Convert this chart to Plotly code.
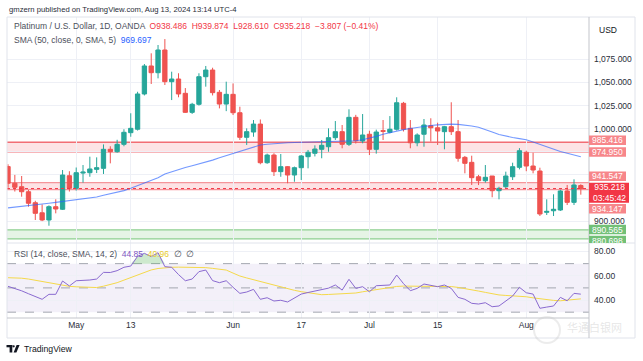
import plotly.graph_objects as go
import pandas as pd
import numpy as np

# ---------------- data ----------------
dates = pd.bdate_range("2024-04-17", "2024-08-13").strftime("%Y-%m-%d").tolist()

opens = [959, 941, 937.2, 931.8, 919.9, 909, 901.2, 915.6, 912.8, 949.1,
         935.5, 952, 952.4, 956, 957.1, 977.7, 975.1, 983.1, 995.7, 999.4,
         1037.6, 1067.9, 1060.6, 1085.2, 1050.9, 1053.8, 1038.3, 1017.7, 1026.4, 1056.3,
         1063.5, 1039.4, 1026.7, 1037.2, 1017.3, 990.7, 996.4, 1005, 963.2, 971.5,
         953.5, 958.9, 949.9, 957.8, 969.7, 973.4, 977.7, 980.5, 990.3, 996.8,
         983.1, 1012.3, 986.7, 994, 977.7, 997.9, 996.1, 999.4, 1027.5, 1000.4,
         984.8, 994, 1003.2, 1001, 996.8, 1002.2, 996.8, 969, 963.6, 948,
         943.7, 948.8, 932.9, 937.2, 948, 958.2, 974.5, 959.6, 954.2, 909.5,
         911.2, 912, 932.6, 920.3, 938.486]
highs = [961.5, 950, 948.8, 933.7, 922, 918, 917, 923.6, 955.3, 954,
         958, 960.7, 969.7, 969, 983, 981, 988, 999.4, 1016.7, 1040,
         1070, 1081.6, 1090.6, 1097, 1061.7, 1060, 1044, 1028, 1060, 1067.9,
         1066, 1041.9, 1050.9, 1049, 1023.8, 1000.4, 1009.4, 1010, 973, 973.4,
         972.6, 959.6, 959, 971.5, 977, 982, 987.8, 1000.4, 1008.3, 1004,
         1021, 1015, 1015.9, 997.8, 999, 1009.4, 1013.7, 1034, 1029, 1009.4,
         995, 1010.5, 1011.3, 1006.5, 1003, 1028.6, 1009.4, 970.5, 970.8, 950,
         960.7, 948.8, 937.2, 953.5, 963.2, 979, 976.2, 974, 957.8, 923.6,
         929, 934, 939.1, 945.2, 939.874]
lows = [936, 932, 926.4, 915.6, 901.2, 900, 895, 908.4, 912, 932,
        933, 941.6, 948, 952, 951, 962.5, 974, 981, 991.3, 998,
        1036, 1048.4, 1054.5, 1047.3, 1031, 1034, 1017, 1016, 1025, 1045.5,
        1036, 1022, 1019, 1014.8, 987.8, 982.4, 991.3, 961.5, 962, 948.8,
        948, 940.9, 942.6, 944.5, 957.1, 970, 968, 975.1, 987.8, 978.8,
        981.3, 984, 984.2, 971.5, 973, 987.8, 995, 998, 997, 978.8,
        981, 980.5, 986, 982.4, 977.7, 993.2, 964.3, 951.7, 939.1, 939,
        941.6, 925.8, 923.6, 935.5, 944.5, 956, 954, 951.7, 905.5, 906.6,
        905.5, 911, 917.4, 917.4, 928.610]
closes = [941, 936.6, 931.8, 919.3, 908.4, 901.2, 915.6, 913.1, 949.9, 935.5,
          952.4, 953, 956.4, 957.8, 977.7, 975.1, 983.1, 996.1, 1000.4, 1037.6,
          1067.9, 1060.6, 1085.2, 1050.9, 1053.8, 1037.6, 1017.7, 1026.4, 1056.3, 1063.5,
          1039, 1026.7, 1037.2, 1017.3, 990.7, 996.8, 1005, 963.2, 971.5, 953.5,
          958.9, 949.9, 957.8, 970.5, 974.5, 978, 982, 990.3, 996.8, 983.1,
          1012.3, 987, 993.2, 977.7, 996.4, 997.2, 999.4, 1028.1, 999.4, 984.8,
          993.2, 1004, 1001, 997.5, 1002.2, 996.8, 968, 962.5, 947, 943.7,
          947.4, 932.9, 935.5, 948.8, 958.9, 976.2, 959.6, 955.3, 907.7, 910.5,
          912.8, 932.6, 920.3, 939.1, 935.218]
sma50 = [914.3, 915, 915.8, 916.5, 917.4, 918.3, 919.3, 920.3, 921.3, 922.2,
         923, 923.8, 924.9, 926, 928, 929.6, 931.3, 933, 935.5, 938.3,
         941, 944, 947, 951, 953.5, 956, 958, 960, 961.8, 964,
         966, 968.5, 970.8, 973, 975.5, 978, 980.3, 982.4, 983.2, 984,
         984.5, 984.8, 985.1, 985.3, 985.5, 985.6, 985.8, 985.9, 986.2, 986.5,
         986.8, 987, 988, 989.5, 991.7, 994, 995.8, 997.5, 999, 1000.3,
         1001.5, 1002.6, 1003.5, 1004.2, 1004.7, 1005, 1004.7, 1004, 1003, 1001.5,
         999.4, 996.5, 993.8, 992, 990.5, 989.3, 988, 985.6, 983, 980.2,
         977.5, 975.4, 973.4, 971.5, 969.7]
rsi = [51.3, 49.7, 47.6, 45.2, 42.9, 40.6, 44.7, 44.7, 55.7, 51.6,
       55.9, 55.9, 56.5, 57.3, 62.8, 62.7, 64.2, 67, 68, 76,
       78.5, 75.8, 79, 67.5, 67, 61, 55.9, 57.3, 63.4, 64.7,
       56, 54.3, 55.9, 50.5, 45.5, 46.6, 48.8, 40.6, 41.9, 39.2,
       39.8, 38.4, 41.4, 44.9, 46.2, 47.3, 48.2, 49.8, 52.4, 48.2,
       57.1, 49.6, 51, 46.8, 51.8, 52, 52.4, 60.6, 53.5, 47.7,
       49.6, 53.2, 52, 51, 52.4, 49.6, 42.2, 40.6, 37.3, 36.7,
       37.8, 34.5, 35.1, 39.5, 43.3, 50.5, 46, 44.9, 33.2, 34.2,
       35.1, 42.2, 39.4, 45.5, 44.85]
rsi_sma = [58.4, 58.3, 58, 57.3, 56.3, 55.2, 54.3, 53.2, 52, 51.3,
           50.9, 50.5, 50.2, 50.3, 51.4, 52.7, 54.3, 56.4, 58.5, 60.6,
           62.8, 64.8, 66, 66.8, 67, 67.1, 67.1, 67.1, 67, 66.7,
           66.1, 65.4, 64.7, 62.2, 59.8, 58.2, 56.7, 55.2, 53.8, 52.3,
           50.9, 49.4, 48, 46.9, 45.9, 44.9, 44.4, 44.6, 44.9, 45.2,
           45.4, 45.8, 46.8, 47.8, 48.7, 49.6, 50.4, 51.2, 51.5, 51.5,
           51.5, 51.5, 51.5, 51.5, 51.5, 51.1, 50.4, 49.6, 48.5, 47.4,
           46.3, 45.2, 44.2, 43.8, 43.5, 43.1, 42.7, 41.8, 40.9, 40,
           39.7, 39.4, 39.9, 40.4, 40.96]

tick_dates = ["2024-05-01", "2024-05-13", "2024-06-03", "2024-06-17",
              "2024-07-01", "2024-07-15", "2024-08-01"]
tick_text = ["May", "13", "Jun", "17", "Jul", "15", "Aug"]
price_ticks = [900, 925, 950, 975, 1000, 1025, 1050, 1075]
price_tick_shown = [True, False, False, False, True, True, True, True]  # others hidden under tags
rsi_ticks = [40, 60, 80]
red_zone_hi = (974.950, 985.416)
red_zone_lo = (934.147, 941.547)
green_zone = (880.698, 890.565)
last_price = 935.218
countdown = "03:45:42"
rsi_levels = [70, 50, 30]

# ---------------- style ----------------
UP, DN = "#26a69a", "#ef5350"
FONT = "Liberation Sans"
W, H = 643, 361
L, R, T, B = 7, 589, 17, 318
SEP = 243


def px(x):
    return (x - L) / (R - L)


def py(y):
    return (B - y) / (B - T)


fig = go.Figure()
fig.add_trace(go.Candlestick(
    x=dates, open=opens, high=highs, low=lows, close=closes,
    increasing=dict(line=dict(color=UP, width=1), fillcolor=UP),
    decreasing=dict(line=dict(color=DN, width=1), fillcolor=DN),
    whiskerwidth=0, hoverinfo="skip", showlegend=False, xaxis="x", yaxis="y"))
fig.add_trace(go.Scatter(x=dates, y=sma50, mode="lines",
                         line=dict(color="rgba(41,98,255,0.65)", width=1.1),
                         hoverinfo="skip", showlegend=False, xaxis="x", yaxis="y"))

# RSI pane
ob_idx = [i for i, v in enumerate(rsi) if v > 70]
seg = list(range(ob_idx[0] - 1, ob_idx[-1] + 2))
fig.add_trace(go.Scatter(x=[dates[i] for i in seg], y=[70] * len(seg), mode="lines",
                         line=dict(width=0), hoverinfo="skip", showlegend=False,
                         xaxis="x", yaxis="y2"))
fig.add_trace(go.Scatter(x=[dates[i] for i in seg], y=[max(rsi[i], 70) for i in seg],
                         mode="lines", line=dict(width=0), fill="tonexty",
                         fillcolor="rgba(76,175,80,0.28)", hoverinfo="skip",
                         showlegend=False, xaxis="x", yaxis="y2"))
fig.add_trace(go.Scatter(x=dates, y=rsi_sma, mode="lines",
                         line=dict(color="#f5d94a", width=1),
                         hoverinfo="skip", showlegend=False, xaxis="x", yaxis="y2"))
fig.add_trace(go.Scatter(x=dates, y=rsi, mode="lines",
                         line=dict(color="#8a6ad0", width=1),
                         hoverinfo="skip", showlegend=False, xaxis="x", yaxis="y2"))

shapes = []
# zones
for (lo, hi), fill, edge, lw in [
        (red_zone_hi, "rgba(242,54,69,0.14)", "#f26d74", 1.4),
        (red_zone_lo, "rgba(242,54,69,0.14)", "#f5959a", 1.2),
        (green_zone, "rgba(76,175,80,0.14)", "#8fd092", 1.3)]:
    shapes.append(dict(type="rect", xref="paper", yref="y", x0=0, x1=1, y0=lo, y1=hi,
                       fillcolor=fill, line=dict(width=0), layer="below"))
    for v in (lo, hi):
        shapes.append(dict(type="line", xref="paper", yref="y", x0=0, x1=1, y0=v, y1=v,
                           line=dict(color=edge, width=lw), layer="below"))
shapes.append(dict(type="line", xref="paper", yref="y", x0=0, x1=1, y0=last_price,
                   y1=last_price, line=dict(color="#f23645", width=1, dash="dot")))
# RSI band & levels
shapes.append(dict(type="rect", xref="paper", yref="y2", x0=0, x1=1, y0=30, y1=70,
                   fillcolor="rgba(126,87,194,0.09)", line=dict(width=0), layer="below"))
for lv in rsi_levels:
    shapes.append(dict(type="line", xref="paper", yref="y2", x0=0, x1=1, y0=lv, y1=lv,
                       line=dict(color="#a3a6af", width=1, dash="dash"), layer="below"))
# frame and separators
shapes.append(dict(type="rect", xref="paper", yref="paper", x0=px(L), x1=px(635),
                   y0=py(338), y1=py(T), line=dict(color="#e0e3eb", width=1)))
shapes.append(dict(type="line", xref="paper", yref="paper", x0=1, x1=1, y0=py(338),
                   y1=py(T), line=dict(color="#c3c5cb", width=1)))
shapes.append(dict(type="line", xref="paper", yref="paper", x0=0, x1=1, y0=0, y1=0,
                   line=dict(color="#c3c5cb", width=1)))
shapes.append(dict(type="line", xref="paper", yref="paper", x0=0, x1=px(635),
                   y0=py(SEP), y1=py(SEP), line=dict(color="#e0e3eb", width=1)))

annotations = []
# price tags: (value, shift px, colour, text, height, width)
tags = [(985.416, 1.9, "#f7868a", "985.416", 9.4, 37),
        (974.950, -0.2, "#f7868a", "974.950", 9.4, 37),
        (941.547, 6.5, "#f7868a", "941.547", 9.4, 37),
        (last_price, -4.1, "#f23645", f"{last_price:.3f}<br>{countdown}", 20, 40),
        (934.147, -19.2, "#f7868a", "934.147", 9.4, 37),
        (890.565, 0.3, "#72c076", "890.565", 9.4, 37),
        (880.698, -1.6, "#72c076", "880.698", 9.4, 37)]
for v, sh, col, txt, hh, ww in tags:
    shapes.append(dict(type="rect", xref="paper", yref="y", ysizemode="pixel", yanchor=v,
                       y0=sh - hh / 2, y1=sh + hh / 2, x0=1, x1=px(R + ww),
                       fillcolor=col, line=dict(width=0), layer="above"))
    annotations.append(dict(xref="paper", yref="y", x=px(R + ww / 2), y=v, yshift=sh,
                            text=txt, showarrow=False, xanchor="center", yanchor="middle",
                            font=dict(family=FONT, size=8.5, color="white")))

GRAY = "#4c505b"
annotations += [
    dict(xref="paper", yref="paper", x=px(7), y=py(10), xanchor="left", yanchor="middle",
         showarrow=False, text="gmzern published on TradingView.com, Aug 13, 2024 13:14 UTC-4",
         font=dict(family=FONT, size=7.7, color="#2a2e39")),
    dict(xref="paper", yref="paper", x=px(12), y=py(26), xanchor="left", yanchor="middle",
         showarrow=False,
         text=("Platinum / U.S. Dollar, 1D, OANDA  <span style='color:#f23645'>O938.486  "
               "H939.874  L928.610  C935.218  −3.807 (−0.41%)</span>"),
         font=dict(family=FONT, size=8.5, color=GRAY)),
    dict(xref="paper", yref="paper", x=px(12), y=py(40), xanchor="left", yanchor="middle",
         showarrow=False,
         text="SMA (50, close, 0, SMA, 5)  <span style='color:#2962ff'>969.697</span>",
         font=dict(family=FONT, size=8.5, color=GRAY)),
    dict(xref="paper", yref="paper", x=px(12), y=py(254), xanchor="left", yanchor="middle",
         showarrow=False,
         text=("RSI (14, close, SMA, 14, 2)  <span style='color:#7e57c2'>44.85</span>  "
               "<span style='color:#e8cc2a'>40.96</span>  ∅  ∅"),
         font=dict(family=FONT, size=8.5, color=GRAY)),
    dict(xref="paper", yref="paper", x=px(597), y=py(30), xanchor="left", yanchor="middle",
         showarrow=False, text="USD", font=dict(family=FONT, size=8.5, color="#131722")),
    dict(xref="paper", yref="paper", x=px(22), y=py(349), xanchor="left", yanchor="middle",
         showarrow=False, text="TradingView", font=dict(family=FONT, size=8.7, color="#131722")),
    dict(xref="paper", yref="paper", x=px(594), y=py(327), xanchor="center", yanchor="middle",
         showarrow=False, text="华通白银网",
         font=dict(family="Noto Sans CJK SC", size=11, color="rgba(200,200,200,0.45)")),
]
# TradingView logo
shapes += [
    dict(type="rect", xref="paper", yref="paper", x0=px(6.5), x1=px(12.3), y0=py(347.3),
         y1=py(345), fillcolor="#131722", line=dict(width=0)),
    dict(type="rect", xref="paper", yref="paper", x0=px(9.6), x1=px(12.3), y0=py(352.5),
         y1=py(345), fillcolor="#131722", line=dict(width=0)),
    dict(type="circle", xref="paper", yref="paper", x0=px(12.6), x1=px(14.8), y0=py(347.5),
         y1=py(345.2), fillcolor="#131722", line=dict(width=0)),
    dict(type="path", xref="paper", yref="paper",
         path=f"M {px(16.6)} {py(345)} L {px(19.6)} {py(345)} L {px(16.4)} {py(352.5)} "
              f"L {px(13.6)} {py(352.5)} Z",
         fillcolor="#131722", line=dict(width=0)),
    dict(type="circle", xref="paper", yref="paper", x0=px(534), x1=px(560), y0=py(343),
         y1=py(317), fillcolor="rgba(0,0,0,0)", line=dict(color="rgba(200,200,200,0.35)", width=2)),
]

fig.update_layout(
    width=W, height=H, autosize=False,
    margin=dict(l=L, r=W - R, t=T, b=H - B),
    paper_bgcolor="white", plot_bgcolor="white",
    boxgap=0.1, boxgroupgap=0.3,
    showlegend=False, hovermode=False,
    font=dict(family=FONT, size=8.5, color="#131722"),
    xaxis=dict(type="category", range=[-0.15, 85.2], anchor="y2",
               tickvals=tick_dates, ticktext=tick_text, showgrid=True,
               gridcolor="#eef0f6", gridwidth=1, ticks="", showline=False,
               zeroline=False, rangeslider=dict(visible=False),
               tickfont=dict(family=FONT, size=8.5, color="#2a2e39")),
    yaxis=dict(domain=[py(SEP), 1], range=[876.3, 1120.9], side="right",
               tickvals=price_ticks,
               ticktext=[f"{v:,.3f}" if s else "" for v, s in zip(price_ticks, price_tick_shown)],
               showgrid=True, gridcolor="#eef0f6", zeroline=False, ticks="",
               ticklabelstandoff=4, tickfont=dict(family=FONT, size=8.5, color="#2a2e39")),
    yaxis2=dict(domain=[0, py(SEP)], range=[25.2, 87.0], side="right", anchor="x",
                tickvals=rsi_ticks, ticktext=[f"{v:.2f}" for v in rsi_ticks],
                showgrid=True, gridcolor="#eef0f6", zeroline=False, ticks="",
                ticklabelstandoff=4, tickfont=dict(family=FONT, size=8.5, color="#2a2e39")),
    shapes=shapes, annotations=annotations,
)

fig.write_html("out.html", config={"displayModeBar": False},
               post_script="document.body.style.margin='0';document.body.style.overflow='hidden';")
